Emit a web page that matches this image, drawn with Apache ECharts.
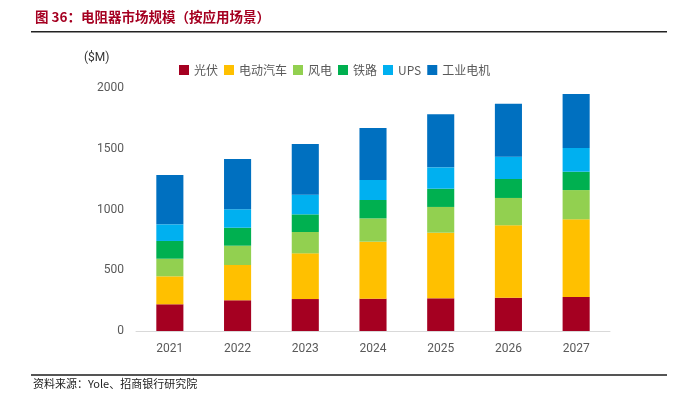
<!DOCTYPE html>
<html><head><meta charset="utf-8">
<script src="https://cdn.jsdelivr.net/npm/echarts@6/dist/echarts.min.js"></script>
<style>html,body{margin:0;padding:0;background:#fff}#c{width:682px;height:393px}</style>
</head><body><div id="c"></div>
<script>
const years = ['2021','2022','2023','2024','2025','2026','2027'];
const seriesNames = ['光伏','电动汽车','风电','铁路','UPS','工业电机'];
const pv    = [220, 253, 263, 266, 269, 274, 280];
const ev    = [230, 290, 376, 469, 540, 596, 639];
const wind  = [145, 159, 176, 192, 212, 225, 241];
const rail  = [146, 148, 145, 151, 150, 156, 151];
const ups   = [137, 152, 162, 165, 176, 184, 195];
const motor = [406, 413, 417, 428, 436, 436, 445];
const yTicks = [0, 500, 1000, 1500, 2000];
const colors = ['#a50021','#ffc000','#92d050','#00b050','#00b0f0','#0070c0'];
const allData = [pv, ev, wind, rail, ups, motor];

const chart = echarts.init(document.getElementById('c'));
chart.setOption({
  animation:false,
  textStyle:{fontFamily:'Roboto, "Noto Sans CJK SC", sans-serif'},
  graphic:[
    {type:'text',left:35,top:10,style:{text:'图 36：电阻器市场规模（按应用场景）',fill:'#a50021',font:'bold 13.5px "Noto Sans CJK SC", sans-serif'}},
    {type:'rect',shape:{x:31,y:31,width:636,height:1.5},style:{fill:'#222'}},
    {type:'rect',shape:{x:31,y:374,width:636,height:2},style:{fill:'#555'}},
    {type:'text',left:33,top:378,style:{text:'资料来源：Yole、招商银行研究院',fill:'#222',font:'11px "Noto Sans CJK SC", sans-serif'}},
    {type:'text',left:84,top:52,style:{text:'($M)',fill:'#333',font:'12px Roboto, sans-serif'}}
  ],
  legend:{
    top:59,left:174,itemWidth:10,itemHeight:10,itemGap:6,
    icon:'rect',
    textStyle:{color:'#595959',fontSize:12,fontFamily:'"Noto Sans CJK SC", Roboto, sans-serif'},
    data:seriesNames
  },
  grid:{left:136,right:72,top:88,bottom:62,containLabel:false},
  xAxis:{
    type:'category',data:years,
    axisLine:{lineStyle:{color:'#d9d9d9',width:1}},
    axisTick:{show:false},
    axisLabel:{color:'#595959',fontSize:12,margin:12}
  },
  yAxis:{
    type:'value',min:yTicks[0],max:yTicks[yTicks.length-1],interval:500,
    axisLine:{show:false},axisTick:{show:false},
    splitLine:{show:false},
    axisLabel:{color:'#595959',fontSize:12,margin:12,formatter:v=>String(v)}
  },
  series: seriesNames.map((n,i)=>({
    name:n,type:'bar',stack:'s',data:allData[i],
    barWidth:'40%',
    itemStyle:{color:colors[i]}
  }))
});
</script></body></html>
